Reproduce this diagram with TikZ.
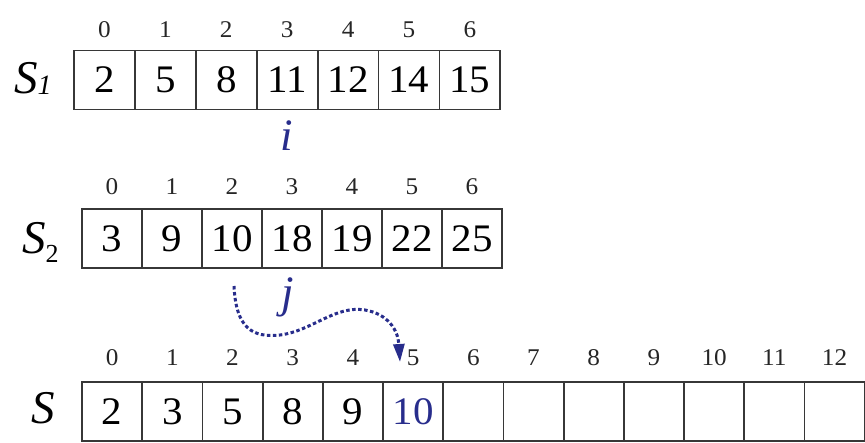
\documentclass[tikz,border=0pt]{standalone}
\usepackage{fontspec}
\setmainfont{Liberation Serif}
\usetikzlibrary{arrows.meta}
\definecolor{mblue}{RGB}{40,45,140}
\definecolor{lgray}{RGB}{55,55,55}
\newcommand\wdx[1]{\scalebox{1.05}[1]{#1}}
\tikzset{
  cell/.style={draw=lgray, line width=1.8pt, minimum height=59pt, inner sep=0pt, font=\fontsize{39}{39}\selectfont},
  idx/.style={inner sep=0pt, font=\fontsize{24}{24}\selectfont, text=black!85},
  lbl/.style={inner sep=0pt, anchor=base west, font=\fontsize{47}{47}\selectfont\itshape},
  ptr/.style={inner sep=0pt, anchor=base, text=mblue, font=\fontsize{45}{45}\selectfont\itshape},
  arrowst/.style={draw=mblue, line width=3pt, dash pattern=on 3.5pt off 2.5pt, -{Triangle[length=18pt,width=11pt]}}
}
\begin{document}
\begin{tikzpicture}[x=1pt,y=-1pt]
\useasboundingbox (0,0) rectangle (865,442);
% S1
\foreach \v [count=\k from 0] in {2,5,8,11,12,14,15} {
  \node[cell, minimum width=60.9pt] (a\k) at ({74+60.9*\k+30.45},80) {\wdx{\v}};
  \node[idx] (ai\k) at ({74+60.9*\k+30.45},30) {\wdx{\k}};
}
\node[lbl] (la) at (14,93) {S\raisebox{-1pt}{\fontsize{28}{28}\selectfont 1}};
\node[ptr] (pi) at (287,150) {i};
% S2
\foreach \v [count=\k from 0] in {3,9,10,18,19,22,25} {
  \node[cell, minimum width=60pt] (b\k) at ({82+60*\k+30},238.5) {\wdx{\v}};
  \node[idx] (bi\k) at ({82+60*\k+30},187) {\wdx{\k}};
}
\node[lbl] (lb) at (22,253) {S\raisebox{-9pt}{\upshape\fontsize{26}{26}\selectfont 2}};
\node[ptr] (pj) at (288,307) {j};
% S
\foreach \v [count=\k from 0] in {2,3,5,8,9} {
  \node[cell, minimum width=60.2pt] (c\k) at ({82+60.2*\k+30.1},411.5) {\wdx{\v}};
}
\node[cell, minimum width=60.2pt, text=mblue] (c5) at ({82+60.2*5+30.1},411.5) {\wdx{10}};
\foreach \k in {6,...,12} {
  \node[cell, minimum width=60.2pt] (c\k) at ({82+60.2*\k+30.1},411.5) {};
}
\foreach \k in {0,...,12} {
  \node[idx] (ci\k) at ({82+60.2*\k+30.1},358) {\wdx{\k}};
}
\node[lbl] (lc) at (31,423) {S};
% arrow
\coordinate (arS) at (234,286);
\coordinate (arE) at (400,362);
\draw[arrowst] (arS) .. controls (236,328) and (252,338) .. (280,335)
  .. controls (312,331) and (335,305) .. (365,310)
  .. controls (388,314) and (398,330) .. (arE);
\end{tikzpicture}
\end{document}
